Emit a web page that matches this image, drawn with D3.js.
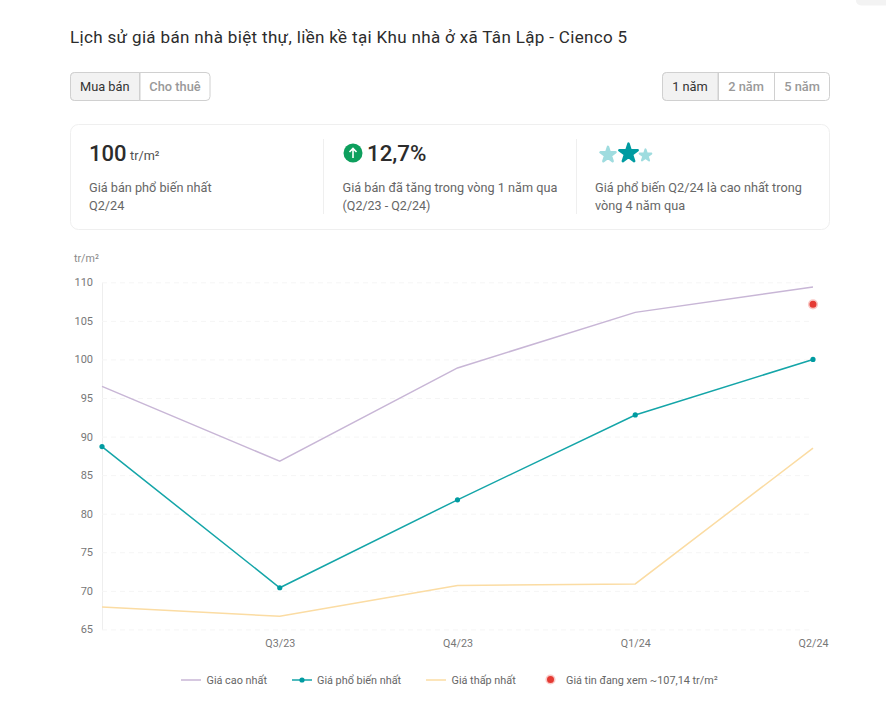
<!DOCTYPE html>
<html><head><meta charset="utf-8">
<script src="https://cdn.jsdelivr.net/npm/d3@7"></script>
<style>
html,body{margin:0;padding:0;background:#fff;overflow:hidden}
svg{display:block}
text{font-family:Roboto,sans-serif}
</style></head><body>
<svg id="c" width="886" height="705"></svg>
<script>
const categories=["Q2/23","Q3/23","Q4/23","Q1/24","Q2/24"];
const tickLabels=["Q3/23","Q4/23","Q1/24","Q2/24"];
const yTicks=[65,70,75,80,85,90,95,100,105,110];
const highValues=[96.5,86.8,98.9,106.1,109.4];
const popularValues=[88.7,70.4,81.8,92.8,100];
const lowValues=[67.9,66.7,70.7,70.9,88.5];
const viewedCategory="Q2/24";
const viewedValue=107.14;
const titleText="Lịch sử giá bán nhà biệt thự, liền kề tại Khu nhà ở xã Tân Lập - Cienco 5";
const legendLabels=["Giá cao nhất","Giá phổ biến nhất","Giá thấp nhất","Giá tin đang xem ~107,14 tr/m²"];

const svg=d3.select("#c");
const x=d3.scalePoint().domain(categories).range([102,813]);
const y=d3.scaleLinear().domain([65,110]).range([629.4,282.3]);
const txt=(s,px,py,size,fill,opt={})=>svg.append("text").attr("x",px).attr("y",py)
  .attr("font-size",size).attr("fill",fill).attr("font-weight",opt.w||400)
  .attr("font-family",opt.f||"Roboto,sans-serif").attr("text-anchor",opt.a||"start").text(s);

svg.append("rect").attr("x",856).attr("y",-10).attr("width",40).attr("height",15.5).attr("rx",5).attr("fill","#f3f3f3");

txt(titleText,70,43,17,"#2c2c2c",{f:"Lato,sans-serif"}).attr("letter-spacing",.34);

function buttons(x0,widths,labels,yy){
  let cx=x0;const tot=d3.sum(widths);
  svg.append("rect").attr("x",x0+.5).attr("y",yy+.5).attr("width",tot-1).attr("height",28).attr("rx",4)
    .attr("fill","#fff").attr("stroke","#d0d0d0");
  svg.append("path").attr("d",`M${x0+widths[0]},${yy+.5}H${x0+4.5}a4,4 0 0 0 -4,4V${yy+24.5}a4,4 0 0 0 4,4H${x0+widths[0]}Z`)
    .attr("fill","#f2f2f2").attr("stroke","#d0d0d0");
  labels.forEach((l,i)=>{
    if(i>0)svg.append("line").attr("x1",cx+.5).attr("x2",cx+.5).attr("y1",yy).attr("y2",yy+29).attr("stroke","#d0d0d0");
    txt(l,cx+widths[i]/2,yy+19,12.8,i==0?"#333":"#999",{a:"middle",w:i==0?400:500});
    cx+=widths[i];
  });
}
buttons(70,[69.5,71],["Mua bán","Cho thuê"],72);
buttons(662,[56,56,56],["1 năm","2 năm","5 năm"],72);

svg.append("rect").attr("x",70.5).attr("y",124.5).attr("width",759).attr("height",105).attr("rx",8)
  .attr("fill","#fff").attr("stroke","#efefef");
[323.5,576.5].forEach(v=>svg.append("line").attr("x1",v).attr("x2",v).attr("y1",139).attr("y2",214).attr("stroke","#efefef"));
txt("100",89,161,22,"#2c2c2c",{f:"Lato,sans-serif",w:500});
txt("tr/m²",130,160,12.7,"#505050");
txt("Giá bán phổ biến nhất",89,192,12.7,"#666");
txt("Q2/24",89,210,12.7,"#666");
svg.append("circle").attr("cx",353).attr("cy",153).attr("r",9.5).attr("fill","#0d9f5d");
svg.append("path").attr("d","M353,158V149M349.5,152L353,148.5L356.5,152").attr("fill","none").attr("stroke","#fff").attr("stroke-width",1.6);
txt("12,7%",367,161,22.3,"#2c2c2c",{f:"Lato,sans-serif",w:500});
txt("Giá bán đã tăng trong vòng 1 năm qua",342.5,192,12.7,"#666");
txt("(Q2/23 - Q2/24)",342.5,210,12.5,"#666");
[[608,154.8,70,2.5,"#9fdcdf"],[628.5,153.3,105,2.5,"#009ba1"],[645.5,155.5,42,2,"#9fdcdf"]].forEach(s=>{
  svg.append("path").attr("d",d3.symbol(d3.symbolStar,s[2])()).attr("transform",`translate(${s[0]},${s[1]})`)
    .attr("fill",s[4]).attr("stroke",s[4]).attr("stroke-width",s[3]).attr("stroke-linejoin","round");
});
txt("Giá phổ biến Q2/24 là cao nhất trong",595,192,12.7,"#666");
txt("vòng 4 năm qua",595,210,12.7,"#666");

txt("tr/m²",74,262,10.7,"#8a8a8a");
const gy=svg.append("g").attr("transform","translate(102,0)")
  .call(d3.axisLeft(y).tickValues(yTicks).tickSize(0).tickPadding(9));
gy.select(".domain").attr("stroke","#eeeeee");
gy.selectAll("text").attr("font-size",11).attr("fill","#777").attr("font-family","Roboto,sans-serif");
gy.selectAll(".tick line").attr("x2",711).attr("stroke","#f5f5f5").attr("stroke-dasharray","5 4");

const gx=svg.append("g").attr("transform","translate(0,629.4)")
  .call(d3.axisBottom(x).tickValues(tickLabels).tickSize(0).tickPadding(10));
gx.select(".domain").remove();
gx.selectAll("text").attr("font-size",10.7).attr("fill","#777").attr("font-family","Roboto,sans-serif");

const line=d3.line().x((d,i)=>x(categories[i])).y(d=>y(d));
const series=[[highValues,"#c8b6d6"],[lowValues,"#fbdca3"],[popularValues,"#14a5a8"]];
series.forEach(([v,c])=>svg.append("path").datum(v).attr("d",line).attr("fill","none").attr("stroke",c).attr("stroke-width",1.5));
svg.selectAll("circle.pop").data(popularValues).join("circle").attr("class","pop")
  .attr("cx",(d,i)=>x(categories[i])).attr("cy",d=>y(d)).attr("r",2.6).attr("fill","#009ba1");
svg.append("circle").attr("cx",x(viewedCategory)).attr("cy",y(viewedValue)).attr("r",4.3).attr("fill","#e53a33").attr("stroke","#f9c9c6").attr("stroke-width",1.6);

const ly=680;
const lg=(x1,x2,c)=>svg.append("line").attr("x1",x1).attr("x2",x2).attr("y1",ly).attr("y2",ly).attr("stroke",c).attr("stroke-width",1.5);
lg(181,201,"#c8b6d6");txt(legendLabels[0],206.5,684,10.85,"#666");
lg(292,312,"#14a5a8");svg.append("circle").attr("cx",302).attr("cy",ly).attr("r",2.6).attr("fill","#009ba1");
txt(legendLabels[1],317,684,10.85,"#666");
lg(426,446,"#fbdca3");txt(legendLabels[2],451.5,684,10.85,"#666");
svg.append("circle").attr("cx",550.5).attr("cy",ly-.5).attr("r",4.3).attr("fill","#e53a33").attr("stroke","#f9c9c6").attr("stroke-width",1.6);
txt(legendLabels[3],566,684,10.85,"#666");
</script></body></html>
